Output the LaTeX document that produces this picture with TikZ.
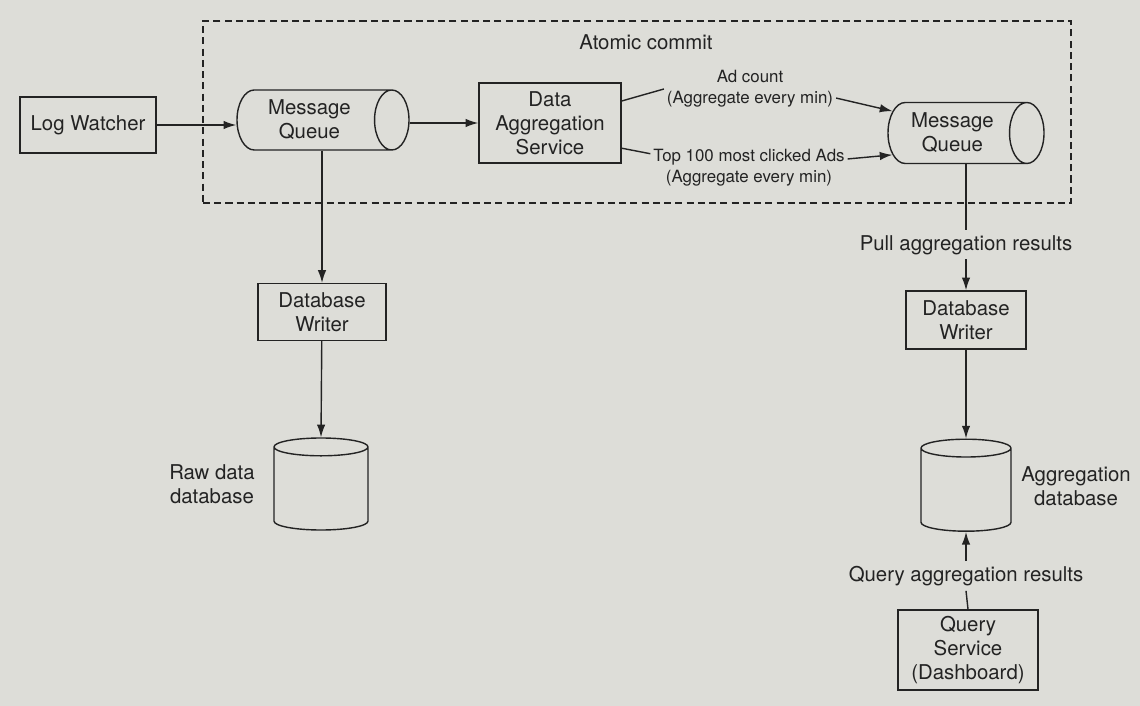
\documentclass[tikz,border=0pt]{standalone}
\usepackage{fontspec}
\setmainfont{TeX Gyre Heros}
\usetikzlibrary{positioning,shapes.geometric,arrows.meta}
\definecolor{pagegray}{RGB}{221,221,216}
\definecolor{inkgray}{RGB}{35,35,35}

\begin{document}
\begin{tikzpicture}[
    font=\fontsize{14.5}{17}\selectfont,
    every node/.style={text=inkgray},
    box/.style={draw=inkgray,line width=1pt,align=center,inner sep=2pt},
    queue/.style={cylinder,anchor=shape center,draw=inkgray,line width=1pt,align=center,
      aspect=0.7,minimum width=1.5cm,minimum height=4.3cm},
    store/.style={cylinder,anchor=shape center,shape border rotate=90,draw=inkgray,
      line width=1pt,aspect=1.9,minimum width=2.35cm,minimum height=2.3cm},
    note/.style={font=\fontsize{12}{15}\selectfont,align=center,inner sep=2pt},
    flow/.style={draw=inkgray,line width=1pt,-{Latex[length=9pt,width=6pt]}},
    wire/.style={draw=inkgray,line width=1pt}
  ]
  \fill[pagegray] (0,0) rectangle (28.5,-17.65);
  \useasboundingbox (0,0) rectangle (28.5,-17.65);

  % atomic commit frame
  \node[draw=inkgray,dash pattern=on 5pt off 3pt,line width=1pt,minimum width=21.7cm,
    minimum height=4.55cm] (commit) at (15.925,-2.8) {};
  \node (atomic) at (16.15,-1.05) {Atomic commit};

  % top row
  \node[box,minimum width=3.4cm,minimum height=1.4cm] (watcher) at (2.2,-3.125) {Log Watcher};
  \node[queue] (queueA) at (8.075,-3.0) {Message\\Queue};
  \node[box,minimum width=3.55cm,minimum height=2.0cm] (aggsvc) at (13.75,-3.075)
    {Data\\Aggregation\\Service};
  \node[queue,minimum width=1.525cm,minimum height=3.9cm] (queueB) at (24.15,-3.325)
    {Message\\Queue};

  \node[note] (adcount) at (18.75,-2.225) {Ad count\\(Aggregate every min)};
  \node[note] (topads) at (18.725,-4.19) {Top 100 most clicked Ads\\(Aggregate every min)};

  % left column
  \node[box,minimum width=3.2cm,minimum height=1.42cm] (writerA) at (8.05,-7.8)
    {Database\\Writer};
  \node[store] (rawdb) at (8.025,-12.1) {};
  \node[align=center] (rawlbl) at (5.3,-12.1) {Raw data\\database};

  % right column
  \node (pull) at (24.15,-6.12) {Pull aggregation results};
  \node[box,minimum width=3.0cm,minimum height=1.45cm] (writerB) at (24.15,-8.0)
    {Database\\Writer};
  \node[store,minimum width=2.25cm] (aggdb) at (24.15,-12.13) {};
  \node[align=center] (agglbl) at (26.9,-12.15) {Aggregation\\database};
  \node (query) at (24.15,-14.4) {Query aggregation results};
  \node[box,minimum width=3.5cm,minimum height=2.0cm] (qsvc) at (24.2,-16.25)
    {Query\\Service\\(Dashboard)};

  \path[flow] (watcher) -- (queueA.west |- watcher);
  \path[flow] (queueA.east |- aggsvc) -- (aggsvc);
  \path[wire] ([yshift=0.55cm]aggsvc.east) -- (adcount.west);
  \path[flow] (adcount.-6) -- (queueB.160);
  \path[wire] ([yshift=-0.63cm]aggsvc.east) -- (topads.172);
  \path[flow] (topads.5) -- (queueB.200);
  \path[flow] (writerA.north |- queueA.south) -- (writerA.north);
  \path[flow] (writerA) -- (rawdb.top);
  \path[wire] (pull.north |- queueB.south) -- (pull.north);
  \path[flow] (pull.south) -- (writerB.north);
  \path[flow] (writerB) -- (aggdb.top);
  \path[wire] (qsvc.north) -- (query.south);
  \path[flow] (query.north) -- (aggdb.bottom);
\end{tikzpicture}
\end{document}
